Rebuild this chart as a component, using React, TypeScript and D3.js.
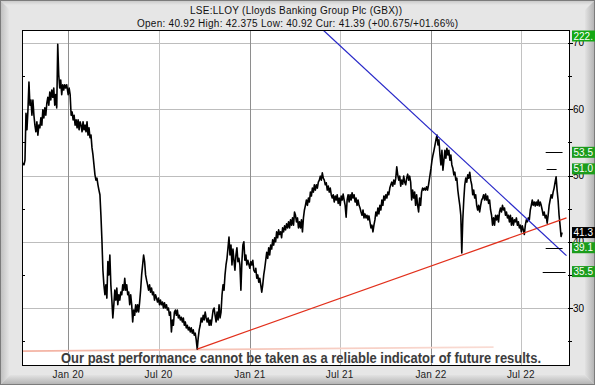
import React from 'react';
import * as d3 from 'd3';

const W = 595;
const H = 385;
const plot = { left: 22, top: 30, right: 570, bottom: 366 };

// closing prices, one reading every two days from each chunk's start date
const q4_2019 = [
  51.9, 51.6, 52.3, 59.4, 56.9, 59.9, 64.1, 60.6, 61.4, 59.1, 61.4, 59.1, 57.6, 56.6, 58.1,
  56.1, 57.6, 57.2, 58.7, 57.6, 59.9, 58.7, 60.2, 59.1, 60.9, 61.8, 60.6, 62.6, 61.4, 62.9,
  61.8, 63.2, 60.6, 62.2, 60.2, 69.8, 65.2, 63.2, 64.4, 62.2, 63.7, 62.9, 63.7, 63.2, 63.7,
];
const y2020 = [
  62.2, 63.2, 62.2, 59.1, 59.6, 58.4, 59.1, 57.6, 58.4, 57.2, 58.4, 56.9, 58.1, 57.6, 56.6,
  58.1, 56.9, 57.6, 56.6, 58.1, 56.1, 57.2, 55.7, 56.1, 54.2, 53.1, 51.6, 50.1, 49.3, 49.6,
  48.6, 47.8, 47.1, 44.0, 40.3, 35.7, 33.5, 32.0, 33.5, 31.5, 37.0, 35.0, 38.0, 33.5, 31.2,
  28.5, 30.5, 32.7, 31.2, 33.0, 30.5, 32.0, 31.2, 32.4, 32.0, 33.5, 32.7, 34.5, 32.7, 33.5,
  32.0, 32.4, 30.5, 32.0, 30.5, 27.9, 29.7, 28.9, 30.5, 29.4, 30.5, 29.4, 30.9, 32.7, 35.0,
  36.5, 38.0, 37.0, 35.0, 34.2, 33.5, 32.7, 33.5, 32.4, 33.0, 32.0, 32.4, 31.2, 32.0, 31.5,
  30.9, 31.5, 30.5, 31.2, 30.5, 30.9, 30.0, 30.8, 30.0, 30.5, 29.7, 30.0, 28.9, 29.4, 26.4,
  28.2, 27.4, 29.4, 29.7, 28.9, 29.7, 28.5, 28.9, 28.2, 28.6, 27.9, 28.5, 27.4, 27.9, 27.0,
  27.4, 26.7, 27.1, 26.4, 27.0, 26.2, 26.7, 25.9, 26.2, 25.2, 23.8, 25.5, 26.7, 27.4, 28.5,
  27.9, 28.9, 28.2, 29.4, 28.5, 27.9, 28.5, 27.4, 28.2, 27.4, 28.5, 29.7, 30.0, 28.9, 27.9,
  29.4, 28.2, 30.5, 28.5, 29.4, 32.0, 33.5, 32.7, 35.0, 36.5, 37.5, 39.1, 40.7, 38.0, 39.5,
  36.5, 38.9, 37.2, 35.7, 38.0, 39.1, 37.0, 37.5, 36.5, 32.7, 37.0, 39.5, 40.0, 37.2, 38.0,
  36.5, 37.2,
];
const y2021 = [
  36.0, 37.0, 36.5, 37.2, 35.7, 35.4, 36.0, 34.5, 35.0, 33.9, 34.5, 33.5, 32.4, 33.5, 35.0,
  36.0, 37.2, 38.4, 37.5, 39.1, 38.0, 39.5, 38.9, 40.3, 39.5, 40.6, 40.0, 41.5, 40.6, 41.8,
  41.1, 41.5, 40.6, 42.1, 41.5, 42.4, 41.8, 42.7, 42.1, 43.0, 42.1, 43.3, 42.5, 43.6, 42.5,
  44.5, 44.0, 43.0, 43.6, 42.1, 43.0, 42.1, 43.3, 41.5, 43.6, 44.8, 45.5, 46.3, 45.5, 46.6,
  46.0, 47.5, 46.9, 48.1, 47.5, 48.6, 47.8, 48.6, 48.1, 49.0, 49.3, 49.9, 49.3, 50.4, 49.6,
  49.3, 48.6, 48.9, 47.8, 48.4, 47.5, 48.1, 47.1, 46.6, 47.1, 46.0, 46.9, 46.3, 47.1, 45.8,
  46.6, 45.5, 46.9, 46.3, 47.2, 46.3, 45.5, 43.7, 46.3, 47.1, 46.0, 47.1, 46.3, 47.4, 46.6,
  47.1, 46.0, 46.6, 45.5, 46.3, 45.5, 45.1, 44.5, 44.0, 44.8, 43.6, 44.2, 43.6, 44.0, 43.3,
  43.9, 43.0, 42.1, 42.5, 41.5, 42.5, 43.3, 44.5, 43.9, 45.1, 44.2, 45.5, 44.8, 46.3, 45.5,
  46.9, 46.3, 47.1, 46.6, 47.5, 47.1, 48.1, 48.6, 49.0, 48.4, 49.3, 48.7, 49.6, 51.3, 50.1,
  49.3, 49.9, 48.4, 49.3, 48.7, 49.9, 49.0, 48.6, 49.6, 50.2, 49.3, 49.9, 49.0, 46.3, 47.8,
  46.6, 47.5, 45.5, 47.1, 45.5, 44.5, 46.6, 45.5, 47.5, 48.1, 47.8, 48.1, 47.8, 48.3, 47.8,
  48.6,
];
const y2022 = [
  51.1, 52.3, 53.1, 53.8, 54.6, 55.4, 56.1, 54.6, 55.4, 53.1, 51.6, 53.8, 50.8, 52.3, 53.8,
  52.6, 54.1, 53.1, 53.8, 52.3, 53.1, 51.6, 51.1, 50.1, 50.5, 49.3, 49.6, 47.8, 46.6, 45.5,
  44.0, 38.3, 43.3, 46.3, 48.6, 49.6, 49.0, 50.1, 49.6, 50.5, 49.3, 48.6, 47.1, 47.8, 46.6,
  47.1, 45.5, 44.8, 45.5, 44.5, 45.5, 46.3, 46.6, 47.1, 46.3, 47.2, 46.3, 46.9, 45.8, 46.3,
  44.8, 44.0, 42.5, 43.6, 42.5, 44.0, 43.3, 44.0, 43.0, 44.5, 45.1, 44.5, 45.5, 44.8, 45.1,
  44.0, 44.5, 43.6, 44.0, 43.0, 44.0, 42.5, 43.6, 42.5, 43.3, 43.0, 43.6, 42.5, 43.0, 42.1,
  42.5, 41.5, 42.4, 41.8, 41.1, 42.5, 43.3, 43.0, 43.6, 43.3, 44.8, 45.5, 46.3, 45.5, 46.0,
  45.4, 46.0, 45.5, 46.3, 45.4, 46.0, 45.5, 44.8, 44.0, 44.5, 43.6, 44.0, 42.8, 44.0, 45.5,
  46.3, 47.1, 46.6, 47.5, 48.1, 49.0, 49.8, 47.8, 46.3, 44.0, 42.5, 40.8, 41.4,
];
const chunks = [q4_2019, y2020, y2021, y2022];
const chunkStarts = ['2019-10-02', '2020-01-01', '2021-01-01', '2022-01-01'];
const STEP_DAYS = 2;

const redTrend: [string, number][] = [['2020-09-17', 23.8], ['2022-10-01', 43.6]];
const blueTrend: [string, number][] = [['2021-05-28', 72.0], ['2022-10-01', 37.9]];
const baseTrend: [string, number][] = [['2019-09-30', 23.5], ['2022-05-07', 24.1]];

const targetValues = [53.5, 51.0, 39.1, 35.5];
const targetFrom = ['2022-08-20', '2022-08-22', '2022-08-20', '2022-08-14'];
const targetTo = ['2022-09-23', '2022-09-11', '2022-09-23', '2022-09-29'];
const targetLabels = ['53.5', '51.0', '39.1', '35.5'];

const currentValue = 41.39;
const currentLabel = '41.3';
const topLabel = '222.';

const xDomain = ['2019-09-30', '2022-10-08'];
const yDomain = [21.25, 71.96];
const yMajor = [30, 40, 50, 60, 70];
const yMinor = [25, 35, 45, 55, 65];

const title = 'LSE:LLOY (Lloyds Banking Group Plc (GBX))';
const subtitle = 'Open: 40.92 High: 42.375 Low: 40.92 Cur: 41.39 (+00.675/+01.66%)';
const disclaimer = 'Our past performance cannot be taken as a reliable indicator of future results.';

const parse = d3.timeParse('%Y-%m-%d');
const font = '"Liberation Sans", Arial, sans-serif';
const GREEN = '#1c9c1c';

export default function App() {
  const x = d3.scaleTime()
    .domain(xDomain.map(d => parse(d) as Date))
    .range([plot.left, plot.right]);
  const y = d3.scaleLinear().domain(yDomain).range([plot.bottom, plot.top]);

  const prices: { date: Date; value: number }[] = [];
  chunks.forEach((vals, c) => {
    const start = parse(chunkStarts[c]) as Date;
    vals.forEach((v, i) => prices.push({ date: d3.timeDay.offset(start, i * STEP_DAYS), value: v }));
  });

  const line = d3.line<{ date: Date; value: number }>()
    .x(d => x(d.date))
    .y(d => y(d.value));
  const trend = d3.line<[string, number]>()
    .x(d => x(parse(d[0]) as Date))
    .y(d => y(d[1]));

  const xTicks = x.ticks(d3.timeMonth.every(6) as d3.TimeInterval);
  const fmt = d3.timeFormat('%b %y');

  const boxes = [
    ...targetValues.map((v, i) => ({ y: y(v), label: targetLabels[i], fill: GREEN })),
    { y: y(currentValue), label: currentLabel, fill: '#000' },
    { y: plot.top + 6, label: topLabel, fill: '#14a814' },
  ];

  return (
    <svg width={W} height={H} style={{ position: 'absolute', left: 0, top: 0 }} fontFamily={font}>
      <defs>
        <linearGradient id="gLeft" x1="0" x2="1" y1="0" y2="0">
          <stop offset="0" stopColor="#bdbdbd" />
          <stop offset="1" stopColor="#e4e4e4" />
        </linearGradient>
        <linearGradient id="gRight" x1="0" x2="1" y1="0" y2="0">
          <stop offset="0" stopColor="#e2e2e2" />
          <stop offset="1" stopColor="#b0b0b0" />
        </linearGradient>
        <linearGradient id="gBottom" x1="0" x2="0" y1="0" y2="1">
          <stop offset="0" stopColor="#e2e2e2" />
          <stop offset="1" stopColor="#b0b0b0" />
        </linearGradient>
        <linearGradient id="gTop" x1="0" x2="0" y1="0" y2="1">
          <stop offset="0" stopColor="#c4c4c4" />
          <stop offset="1" stopColor="#e6e6e6" />
        </linearGradient>
        <linearGradient id="gBase" x1="0" x2="1" y1="0" y2="0">
          <stop offset="0" stopColor="#f3b2a2" />
          <stop offset="1" stopColor="#f9dcd4" />
        </linearGradient>
        <clipPath id="plotClip">
          <rect x={plot.left} y={plot.top} width={plot.right - plot.left} height={plot.bottom - plot.top} />
        </clipPath>
      </defs>

      {/* frame */}
      <rect x={0} y={0} width={W} height={H} fill="#e6e6e6" />
      <polygon points={`0,0 ${W},0 ${W - 5},5 5,5`} fill="url(#gTop)" />
      <polygon points={`0,0 9,9 9,${H - 9} 0,${H}`} fill="url(#gLeft)" />
      <polygon points={`${W},0 ${W},${H} ${W - 10},${H - 10} ${W - 10},10`} fill="url(#gRight)" />
      <polygon points={`0,${H} ${W},${H} ${W - 10},${H - 10} 10,${H - 10}`} fill="url(#gBottom)" />
      <rect x={0.5} y={0.5} width={W - 1} height={H - 1} fill="none" stroke="#7c7c7c" />

      {/* plot */}
      <rect x={plot.left} y={plot.top} width={plot.right - plot.left} height={plot.bottom - plot.top} fill="#fff" />
      {yMajor.map(v => (
        <line key={'h' + v} x1={plot.left} x2={plot.right} y1={Math.round(y(v)) + 0.5} y2={Math.round(y(v)) + 0.5} stroke="#bdbdbd" />
      ))}
      {xTicks.map(d => (
        <line key={'v' + d.getTime()} x1={Math.round(x(d)) + 0.5} x2={Math.round(x(d)) + 0.5} y1={plot.top} y2={plot.bottom}
          stroke={d.getMonth() === 0 ? '#8e8e8e' : '#c2c2c2'} />
      ))}
      {yMinor.map(v => (
        <g key={'m' + v}>
          <line x1={plot.left} x2={plot.left + 3} y1={Math.round(y(v)) + 0.5} y2={Math.round(y(v)) + 0.5} stroke="#000" />
          <line x1={plot.right - 2} x2={plot.right + 2} y1={Math.round(y(v)) + 0.5} y2={Math.round(y(v)) + 0.5} stroke="#000" />
        </g>
      ))}
      {yMajor.map(v => (
        <line key={'t' + v} x1={plot.right - 2} x2={plot.right + 3} y1={Math.round(y(v)) + 0.5} y2={Math.round(y(v)) + 0.5} stroke="#000" />
      ))}

      <g clipPath="url(#plotClip)">
        <path d={trend(baseTrend) || ''} fill="none" stroke="url(#gBase)" strokeWidth={1.6} />
        <path d={line(prices) || ''} fill="none" stroke="#000" strokeWidth={1.6} strokeLinejoin="round" />
        <path d={trend(redTrend) || ''} fill="none" stroke="#e2301c" strokeWidth={1.2} />
        <path d={trend(blueTrend) || ''} fill="none" stroke="#2828c8" strokeWidth={1.2} />
        {targetValues.map((v, i) => (
          <line key={'tg' + i} x1={x(parse(targetFrom[i]) as Date)} x2={x(parse(targetTo[i]) as Date)}
            y1={Math.round(y(v)) + 0.5} y2={Math.round(y(v)) + 0.5} stroke="#000" />
        ))}
      </g>

      <text x={61} y={363} textLength={480} lengthAdjust="spacingAndGlyphs" fontSize={14} fontWeight="bold"
        fill="#3c3c3c" stroke="#f2f2f2" strokeWidth={0.4} paintOrder="stroke">{disclaimer}</text>

      <rect x={plot.left + 0.5} y={plot.top + 0.5} width={plot.right - plot.left - 1} height={plot.bottom - plot.top - 1}
        fill="none" stroke="#000" />

      {/* axes labels */}
      {yMajor.map(v => (
        <text key={'yl' + v} x={573} y={y(v) + 3.5} fontSize={10} fill="#000">{v}</text>
      ))}
      {xTicks.map(d => (
        <text key={'xl' + d.getTime()} x={x(d)} y={377.5} fontSize={10} textAnchor="middle" fill="#222" letterSpacing={0.2}>
          {fmt(d)}
        </text>
      ))}

      {boxes.map((b, i) => (
        <g key={'b' + i}>
          <rect x={572} y={b.y - 5.5} width={W - 572} height={11} fill={b.fill} />
          <text x={573.5} y={b.y + 3.6} fontSize={10} fill="#fff">{b.label}</text>
        </g>
      ))}

      <text x={190} y={14} fontSize={10} textLength={212} lengthAdjust="spacing" fill="#111">{title}</text>
      <text x={137} y={27} fontSize={10} textLength={321} lengthAdjust="spacing" fill="#111">{subtitle}</text>
    </svg>
  );
}
